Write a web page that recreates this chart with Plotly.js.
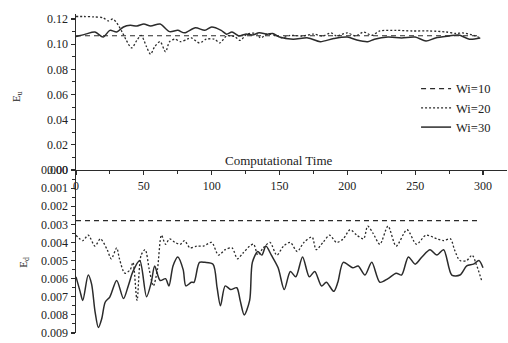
<!DOCTYPE html>
<html>
<head>
<meta charset="utf-8">
<script src="https://cdn.plot.ly/plotly-3.0.1.min.js"></script>
<style>html,body{margin:0;padding:0;background:#fff;}#chart{width:508px;height:343px;}</style>
</head>
<body>
<div id="chart"></div>
<script>
// ---- data ----
var seriesNames = ["Wi=10", "Wi=20", "Wi=30"];
var xTicks = [0, 50, 100, 150, 200, 250, 300];

// top panel (E_u)
var tTopWi10 = [0, 297];
var eTopWi10 = [0.1067, 0.1067];

var tTopWi20 = [0, 6, 13, 20, 24, 27, 30, 34, 37, 41, 45, 48, 52, 55, 58, 62, 66, 69, 73, 77, 82, 85, 91, 96, 102, 106, 111, 117, 121, 126, 133, 136, 141, 147, 152, 158, 167, 175, 182, 188, 192, 200, 206, 212, 218, 224, 236, 248, 261, 273, 280, 285, 293, 298];
var eTopWi20 = [0.122, 0.122, 0.1217, 0.121, 0.1185, 0.12, 0.117, 0.1097, 0.1033, 0.097, 0.1033, 0.107, 0.098, 0.092, 0.098, 0.102, 0.094, 0.102, 0.104, 0.102, 0.104, 0.105, 0.101, 0.104, 0.104, 0.101, 0.1065, 0.106, 0.103, 0.108, 0.1085, 0.105, 0.108, 0.107, 0.105, 0.107, 0.1065, 0.108, 0.1065, 0.109, 0.1065, 0.109, 0.1065, 0.1097, 0.107, 0.1105, 0.111, 0.1105, 0.1105, 0.1097, 0.1085, 0.109, 0.107, 0.105];

var tTopWi30 = [0, 7, 14, 20, 25, 30, 35, 40, 45, 50, 55, 62, 69, 75, 80, 88, 95, 100, 107, 111, 115, 120, 125, 130, 135, 141, 145, 150, 160, 171, 180, 190, 200, 207, 215, 220, 230, 240, 250, 258, 265, 275, 282, 290, 298];
var eTopWi30 = [0.106, 0.108, 0.1097, 0.1057, 0.111, 0.1097, 0.1137, 0.115, 0.1145, 0.116, 0.1145, 0.116, 0.11, 0.111, 0.109, 0.113, 0.111, 0.1137, 0.111, 0.108, 0.1097, 0.1065, 0.108, 0.1073, 0.109, 0.108, 0.1085, 0.1057, 0.104, 0.105, 0.102, 0.1045, 0.1057, 0.1033, 0.102, 0.104, 0.1057, 0.105, 0.1057, 0.1025, 0.105, 0.1065, 0.1073, 0.104, 0.105];

// bottom panel (E_d, reversed axis)
var tBotWi10 = [0, 297];
var eBotWi10 = [0.0028, 0.0028];

var tBotWi20 = [0, 5, 9, 14, 18, 23, 26, 30, 32, 36, 40, 42, 45, 48, 51, 54, 57, 60, 63, 66, 69, 73, 77, 80, 84, 89, 94, 100, 105, 110, 115, 119, 123, 128, 131, 134, 138, 143, 148, 153, 158, 163, 168, 174, 177, 182, 187, 192, 197, 202, 207, 212, 215, 219, 224, 230, 236, 244, 251, 258, 266, 271, 276, 279, 283, 288, 292, 295, 299];
var eBotWi20 = [0.0036, 0.0039, 0.0036, 0.0042, 0.0038, 0.0044, 0.0049, 0.0043, 0.0049, 0.0057, 0.0055, 0.0051, 0.0072, 0.0047, 0.0044, 0.0055, 0.0064, 0.0055, 0.0036, 0.0041, 0.0038, 0.004, 0.0041, 0.0039, 0.0043, 0.0042, 0.0042, 0.004, 0.0047, 0.0044, 0.0043, 0.0049, 0.0046, 0.0042, 0.0041, 0.0047, 0.0043, 0.004, 0.0047, 0.0042, 0.004, 0.0045, 0.004, 0.0037, 0.0044, 0.004, 0.0036, 0.004, 0.0038, 0.0033, 0.0036, 0.0038, 0.0031, 0.0035, 0.0041, 0.0031, 0.0042, 0.0033, 0.0041, 0.0036, 0.0038, 0.0039, 0.0038, 0.0044, 0.005, 0.005, 0.0047, 0.0052, 0.0061];

var tBotWi30 = [0, 3, 5, 9, 11.5, 14, 16.5, 19, 21.5, 25, 30, 35, 38.5, 42, 47, 52, 55.5, 58, 62, 66, 68.5, 71.5, 75, 79, 81, 85, 87, 91, 95, 101, 104, 106.5, 110, 114, 118.5, 121, 124, 128, 130, 134, 137, 140, 144, 149, 153.5, 158, 162, 167, 172, 176, 181, 184.5, 190, 193, 197, 204, 208, 213, 218, 224, 230, 236, 240, 245, 250, 255, 261, 266, 271, 277, 283, 288, 293, 297, 300];
var eBotWi30 = [0.0059, 0.0067, 0.0072, 0.0058, 0.0063, 0.0078, 0.0087, 0.0082, 0.0073, 0.007, 0.0061, 0.0071, 0.0064, 0.0056, 0.005, 0.007, 0.0062, 0.0053, 0.0061, 0.006, 0.0064, 0.0053, 0.0048, 0.0055, 0.0064, 0.0062, 0.0062, 0.0051, 0.0051, 0.0052, 0.0065, 0.0075, 0.0064, 0.0066, 0.0065, 0.0072, 0.008, 0.0072, 0.0051, 0.0045, 0.0047, 0.0042, 0.0047, 0.0054, 0.0066, 0.0056, 0.0059, 0.0048, 0.0059, 0.0056, 0.0064, 0.0062, 0.0067, 0.0062, 0.0051, 0.0054, 0.0053, 0.0058, 0.0051, 0.0062, 0.006, 0.0057, 0.0058, 0.0048, 0.0052, 0.0048, 0.0044, 0.0047, 0.0044, 0.0058, 0.0058, 0.0053, 0.0052, 0.005, 0.0054];

// ---- styles ----
var FONT = "'Liberation Serif', 'Times New Roman', Times, serif";
var INK = "#2b2b2b";
var dashStyles = ["5px,4px", "2px,2px", "solid"];
var widths = [1.2, 1.3, 1.5];

function tr(x, y, i, xa, ya, legend) {
  return {
    x: x, y: y, xaxis: xa, yaxis: ya, type: "scatter", mode: "lines",
    name: seriesNames[i], showlegend: legend, hoverinfo: "skip",
    line: {color: INK, width: widths[i], dash: dashStyles[i], shape: "spline", smoothing: 0.8}
  };
}

var data = [
  tr(tTopWi10, eTopWi10, 0, "x", "y", true),
  tr(tTopWi20, eTopWi20, 1, "x", "y", true),
  tr(tTopWi30, eTopWi30, 2, "x", "y", true),
  tr(tBotWi10, eBotWi10, 0, "x2", "y2", false),
  tr(tBotWi20, eBotWi20, 1, "x2", "y2", false),
  tr(tBotWi30, eBotWi30, 2, "x2", "y2", false)
];

var yAxisCommon = {
  showgrid: false, zeroline: false, showline: true, linecolor: INK, linewidth: 1.5,
  ticks: "outside", ticklen: 4, tickwidth: 1.2, tickcolor: INK,
  tickfont: {family: FONT, size: 12, color: "#222"},
  minor: {ticks: "outside", ticklen: 2.5, tickwidth: 1, tickcolor: INK}
};

var layout = {
  width: 508, height: 343,
  margin: {l: 76, r: 1, t: 14, b: 10},
  paper_bgcolor: "#fff", plot_bgcolor: "rgba(0,0,0,0)",
  font: {family: FONT, color: "#222"},
  showlegend: true,
  legend: {
    x: 0.789, y: 0.812, xanchor: "left", yanchor: "top",
    bgcolor: "rgba(0,0,0,0)", borderwidth: 0,
    font: {family: FONT, size: 12.5, color: "#222"},
    itemwidth: 30, tracegroupgap: 0
  },
  xaxis: {
    domain: [0, 1], anchor: "y", range: [0, 317.7],
    tickmode: "array", tickvals: xTicks, ticktext: xTicks.map(String),
    showgrid: false, zeroline: false, showline: true, linecolor: INK, linewidth: 1.5,
    ticks: "outside", ticklen: 4, tickwidth: 1.2, tickcolor: INK,
    tickfont: {family: FONT, size: 12, color: "#222"},
    minor: {tickmode: "linear", tick0: 0, dtick: 25, ticks: "outside", ticklen: 2.5, tickwidth: 1, tickcolor: INK}
  },
  xaxis2: {domain: [0, 1], anchor: "y2", matches: "x", visible: false},
  yaxis: Object.assign({}, yAxisCommon, {
    domain: [0.511, 1], anchor: "x", range: [0, 0.124],
    tickmode: "linear", tick0: 0, dtick: 0.02, tickformat: ".2f",
    minor: Object.assign({}, yAxisCommon.minor, {tickmode: "linear", tick0: 0, dtick: 0.01})
  }),
  yaxis2: Object.assign({}, yAxisCommon, {
    domain: [0, 0.511], anchor: "x2", range: [0.009, 0],
    tickmode: "linear", tick0: 0, dtick: 0.001, tickformat: ".3f",
    minor: Object.assign({}, yAxisCommon.minor, {tickmode: "linear", tick0: 0, dtick: 0.0005})
  }),
  annotations: [
    {text: "Computational Time", xref: "paper", yref: "paper", x: 0.4687, y: 0.542,
     xanchor: "center", yanchor: "middle", showarrow: false, font: {family: FONT, size: 13, color: "#222"}},
    {text: "E<sub>u</sub>", xref: "paper", yref: "paper", x: -0.137, y: 0.743, textangle: -90,
     xanchor: "center", yanchor: "middle", showarrow: false, font: {family: FONT, size: 11, color: "#222"}},
    {text: "E<sub>d</sub>", xref: "paper", yref: "paper", x: -0.121, y: 0.2226, textangle: -90,
     xanchor: "center", yanchor: "middle", showarrow: false, font: {family: FONT, size: 11, color: "#222"}}
  ]
};

Plotly.newPlot("chart", data, layout, {staticPlot: true, displayModeBar: false});
</script>
</body>
</html>
